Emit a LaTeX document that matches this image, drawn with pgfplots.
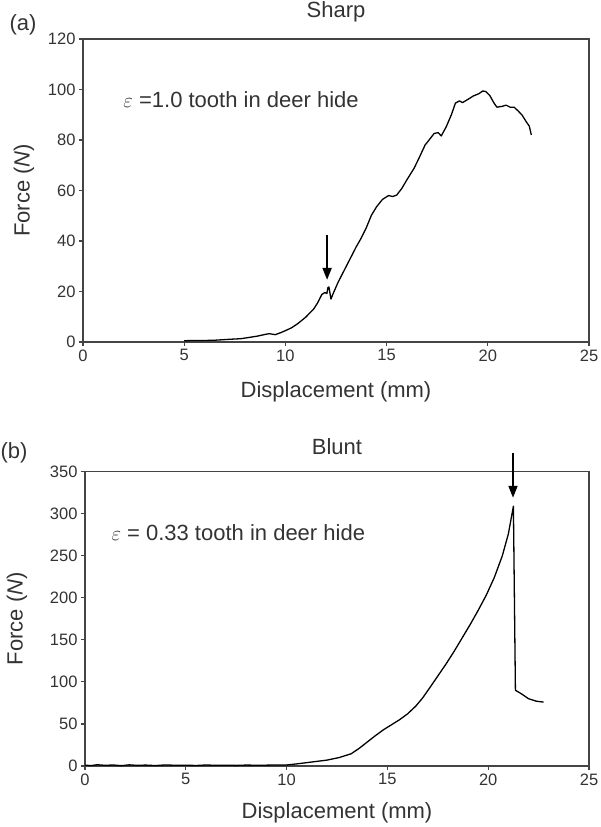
\documentclass[border=0pt]{standalone}
\usepackage{fontspec}
\setmainfont{Liberation Sans}
\usepackage{pgfplots}
\pgfplotsset{compat=1.18}
\usetikzlibrary{arrows.meta}
\definecolor{txt}{HTML}{333333}
\definecolor{axc}{HTML}{444444}
\newcommand{\tfont}{\fontsize{16.5}{20}\selectfont}
\newcommand{\lfont}{\fontsize{22}{26}\selectfont}
\pgfplotsset{
  myaxis/.style={
    scale only axis,
    anchor=south west,
    xmin=0, xmax=25,
    xtick={0,5,10,15,20,25},
    tick align=outside,
    tick pos=left,
    major tick length=4pt,
    axis line style={axc, line width=1.3pt},
    every tick/.style={axc, line width=1.1pt},
    /pgf/number format/assume math mode=true,
    tick label style={font=\tfont, text=txt},
    label style={font=\lfont, text=txt},
    title style={font=\lfont, text=txt},
    clip=false,
  }
}
\begin{document}
\begin{tikzpicture}
\useasboundingbox (0,0) rectangle (600pt,827pt);
% (a) Sharp
\begin{axis}[myaxis,
  at={(83pt,485pt)}, width=506pt, height=303pt,
  ymin=0, ymax=120, ytick={0,20,40,60,80,100,120},
  title={Sharp}, title style={at={(axis description cs:0.5,1.069)}, anchor=center},
  xlabel={Displacement (mm)}, xlabel style={at={(axis description cs:0.5,-0.164)}, anchor=center},
  ylabel={Force (\textit{N})}, ylabel style={at={(axis description cs:-0.1166,0.5)}, anchor=center},
]
\addplot[black, line width=1.3pt, line join=round] coordinates {
(5.0,0.5) (5.5,0.6) (6.0,0.6) (6.5,0.7) (6.9,0.9) (7.3,1.1) (7.8,1.3) (8.2,1.8) (8.6,2.3) (9.0,3.0) (9.2,3.3) (9.5,2.9) (9.8,3.8) (10.0,4.5) (10.3,5.6) (10.6,7.2) (11.0,9.8) (11.4,13.1) (11.6,15.6) (11.8,18.8) (11.95,19.6) (12.05,19.2) (12.1,21.5) (12.15,21.8) (12.25,17.0) (12.35,19.0) (12.6,23.6) (12.9,28.3) (13.2,33.0) (13.5,37.7) (13.7,40.5) (14.0,45.3) (14.25,50.2) (14.5,53.5) (14.8,56.5) (15.1,58.0) (15.3,57.6) (15.5,58.2) (15.75,60.8) (16.0,64.2) (16.35,68.7) (16.6,72.8) (16.9,78.0) (17.1,80.0) (17.35,82.6) (17.55,82.9) (17.7,81.6) (17.95,85.3) (18.2,90.0) (18.4,94.6) (18.6,95.5) (18.75,94.8) (19.0,96.0) (19.3,97.5) (19.55,98.3) (19.75,99.4) (19.9,99.2) (20.1,97.6) (20.3,94.7) (20.45,93.0) (20.7,93.3) (20.9,93.8) (21.1,93.0) (21.3,93.0) (21.5,91.5) (21.7,89.8) (21.9,87.2) (22.05,85.5) (22.15,82.0)
};
\node[anchor=west, font=\lfont, text=txt] at (axis description cs:0.073,0.799) {$\varepsilon$ =1.0 tooth in deer hide};
\draw[black, line width=1.8pt, -{Triangle[length=12pt,width=9pt]}] (axis cs:12.06,42.4) -- (axis cs:12.06,24.6);
\end{axis}
% (b) Blunt
\begin{axis}[myaxis,
  at={(85pt,61pt)}, width=504pt, height=294.3pt,
  ymin=0, ymax=350, ytick={0,50,100,150,200,250,300,350},
  title={Blunt}, title style={at={(axis description cs:0.5,1.0646)}, anchor=center},
  xlabel={Displacement (mm)}, xlabel style={at={(axis description cs:0.5,-0.16)}, anchor=center},
  ylabel={Force\ (\textit{N})}, ylabel style={at={(axis description cs:-0.135,0.5)}, anchor=center},
]
\addplot[black, line width=1.3pt, line join=round] coordinates {
(0,1.0) (0.3,0.5) (0.6,1.5) (1.0,0.8) (1.4,1.2) (1.8,0.4) (2.2,1.4) (2.6,0.7) (3.0,1.1) (3.5,0.5) (4.0,1.3) (4.5,0.8) (5.0,1.0) (5.5,0.6) (6.0,1.2) (6.5,0.8) (7.0,1.0) (7.5,0.7) (8.0,1.1) (8.5,0.9) (9.0,1.0) (9.5,1.2) (10.0,1.2) (10.5,2.5) (11.0,4.0) (11.5,5.5) (12.0,7.0) (12.6,10.0) (13.2,14.5) (13.6,21) (14.0,28.5) (14.4,36) (14.8,43) (15.2,49) (15.6,55) (16.0,62) (16.4,71) (16.75,81) (17.1,93) (17.5,107) (17.9,121) (18.3,136) (18.7,152) (19.1,168) (19.5,185) (19.9,203) (20.3,224) (20.7,250) (21.0,276) (21.25,309) (21.35,90) (21.5,88) (21.7,85) (22.0,80) (22.4,77) (22.75,76)
};
\node[anchor=west, font=\lfont, text=txt] at (axis description cs:0.0456,0.792) {$\varepsilon$ = 0.33 tooth in deer hide};
\draw[black, line width=1.8pt, -{Triangle[length=12pt,width=9pt]}] (axis cs:21.23,372.6) -- (axis cs:21.23,319);
\end{axis}
\node[font=\lfont, text=txt] at (23pt,802pt) {(a)};
\node[font=\lfont, text=txt] at (14pt,374pt) {(b)};
\end{tikzpicture}
\end{document}
